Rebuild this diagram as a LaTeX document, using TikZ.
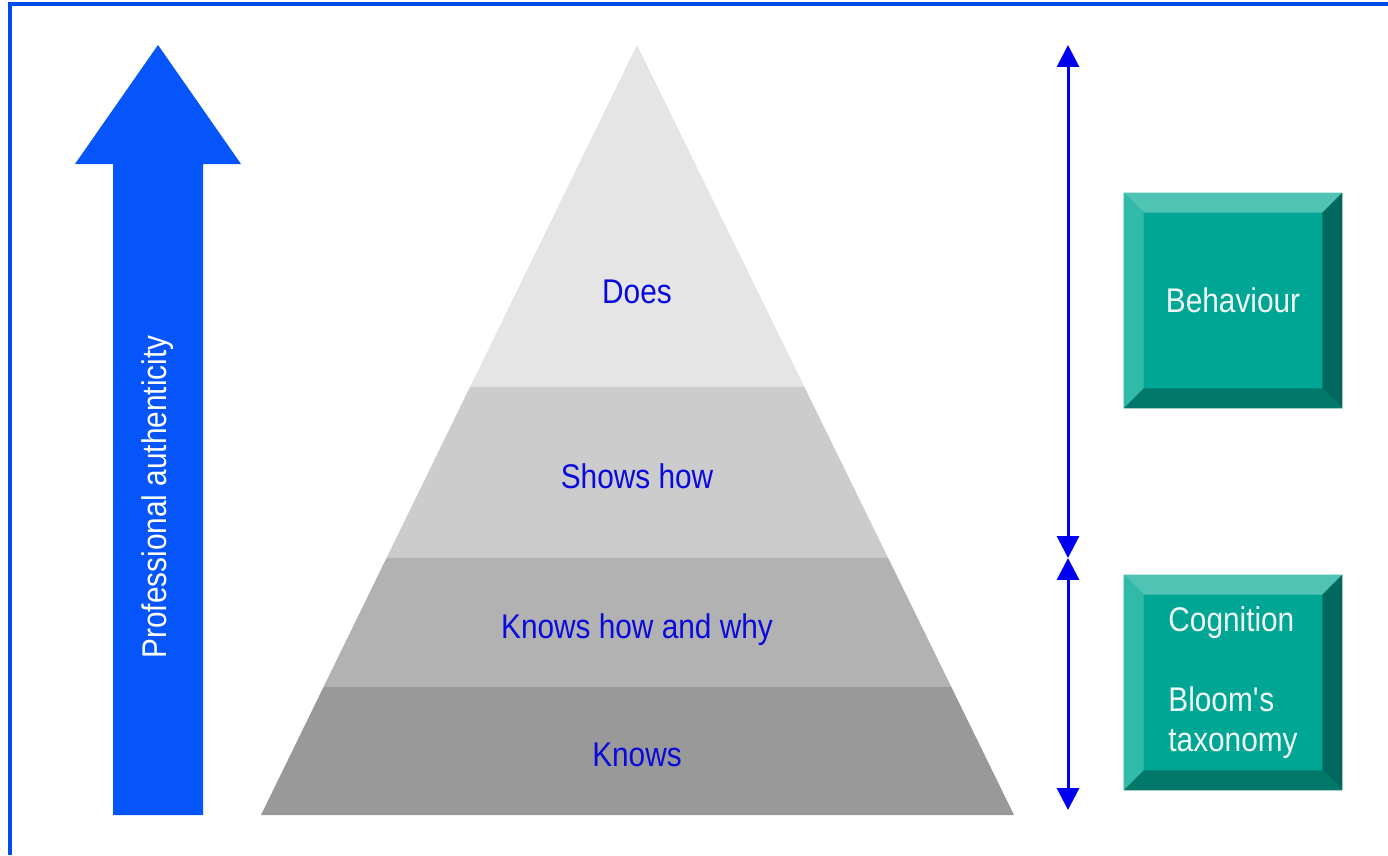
\documentclass[tikz,border=0pt]{standalone}
\usepackage{fontspec}
\setmainfont[FakeStretch=0.87]{Liberation Sans}
\usepackage{tikz}
\usetikzlibrary{calc, arrows.meta}

\definecolor{frameblue}{RGB}{0,76,230}
\definecolor{profblue}{RGB}{5,85,250}
\definecolor{levelblue}{RGB}{10,10,220}
\definecolor{arrowblue}{RGB}{0,0,240}
\definecolor{tealmid}{RGB}{0,166,148}
\definecolor{teallight}{RGB}{80,196,180}
\definecolor{tealleft}{RGB}{50,186,168}
\definecolor{tealdark}{RGB}{0,104,92}
\definecolor{tealbottom}{RGB}{0,120,106}

\begin{document}
\begin{tikzpicture}[
        x=0.02cm, y=-0.02cm,
        layer/.style={text=levelblue, font=\fontsize{19.5}{22}\selectfont},
        tealbox/.style={fill=tealmid, minimum width=4.36cm, minimum height=4.3cm,
            inner sep=0pt, align=left, text=white!94!teal,
            font=\fontsize{19.5}{22.7}\selectfont},
        sidearrow/.style={draw=arrowblue, line width=1.7pt,
            {Triangle[width=12.5pt, length=12.5pt]}-{Triangle[width=12.5pt, length=12.5pt]}}
    ]
        \useasboundingbox (0,0) rectangle (1388,855);
        
        % Frame: top and left edges only
        \draw[frameblue, line width=2.8pt] (10,855) -- (10,4) -- (1388,4);
        
        % Big arrow on the left
        \fill[profblue] (113,815) -- (113,164) -- (75,164) -- (158,45)
            -- (241,164) -- (203,164) -- (203,815) -- cycle;
        \node[rotate=90, text=white, font=\fontsize{19.5}{22}\selectfont] (auth) at (158,497) {Professional authenticity};
        
        % Pyramid corners
        \coordinate (A) at (637,45);
        \coordinate (L) at (261,815);
        \coordinate (R) at (1014,815);
        
        % Four layers, top to bottom
        \fill[black!10] (A) -- ($(A)!0.444!(L)$) -- ($(A)!0.444!(R)$) -- cycle;
        \fill[black!20] ($(A)!0.444!(L)$) -- ($(A)!0.666!(L)$) -- ($(A)!0.666!(R)$) -- ($(A)!0.444!(R)$) -- cycle;
        \fill[black!30] ($(A)!0.666!(L)$) -- ($(A)!0.833!(L)$) -- ($(A)!0.833!(R)$) -- ($(A)!0.666!(R)$) -- cycle;
        \fill[black!40] ($(A)!0.833!(L)$) -- (L) -- (R) -- ($(A)!0.833!(R)$) -- cycle;
        
        \node[layer] (does) at (637,292) {Does};
        \node[layer] (shows) at (637,476) {Shows how};
        \node[layer] (knowshow) at (637,630) {Knows how and why};
        \node[layer] (knows) at (637,755) {Knows};
        
        % Double arrows on the right
        \coordinate (top) at (1068,45);
        \coordinate (mid) at (1068,558);
        \coordinate (bot) at (1068,810);
        \draw[sidearrow] (top) -- (mid);
        \draw[sidearrow] (mid) -- (bot);
        
        % Bevelled boxes
        \node[tealbox] (beh) at (1233,300.5) {Behaviour};
        \node[tealbox] (cog) at (1233,682.5) {Cognition\\[22.7pt]Bloom\textquotesingle s\\taxonomy};
        
        \foreach \b in {beh, cog} {
            \fill[teallight] (\b.north west) -- (\b.north east)
                -- ([shift={(-0.4cm,-0.4cm)}]\b.north east) -- ([shift={(0.4cm,-0.4cm)}]\b.north west) -- cycle;
            \fill[tealleft] (\b.north west) -- ([shift={(0.4cm,-0.4cm)}]\b.north west)
                -- ([shift={(0.4cm,0.4cm)}]\b.south west) -- (\b.south west) -- cycle;
            \fill[tealdark] (\b.north east) -- (\b.south east)
                -- ([shift={(-0.4cm,0.4cm)}]\b.south east) -- ([shift={(-0.4cm,-0.4cm)}]\b.north east) -- cycle;
            \fill[tealbottom] (\b.south west) -- ([shift={(0.4cm,0.4cm)}]\b.south west)
                -- ([shift={(-0.4cm,0.4cm)}]\b.south east) -- (\b.south east) -- cycle;
        }
    \end{tikzpicture}
\end{document}
